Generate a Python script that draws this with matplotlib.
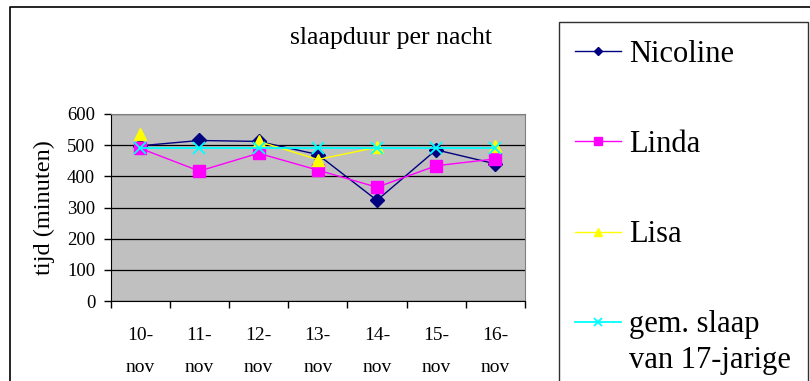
#!/usr/bin/env python3
"""Sleep duration per night, four series on a grey Excel-style plot area."""
import numpy as np
import matplotlib
matplotlib.use("Agg")
import matplotlib.pyplot as plt
from matplotlib.patches import Rectangle
from matplotlib.lines import Line2D

days = ["10-\nnov", "11-\nnov", "12-\nnov", "13-\nnov", "14-\nnov", "15-\nnov", "16-\nnov"]
nicoline = [498, 515, 512, 470, 323, 485, 440]
linda = [490, 417, 474, 420, 365, 434, 456]
lisa = [537, np.nan, 512, 454, 493, np.nan, 497]   # no value on 11 and 15 nov
gem_17 = [490, 490, 490, 490, 490, 490, 490]
labels = ["Nicoline", "Linda", "Lisa", "gem. slaap"]
label_extra = "van 17-jarige"
yticks = [0, 100, 200, 300, 400, 500, 600]

W, H = 810, 381
plt.rcParams["font.family"] = ["Liberation Serif", "DejaVu Serif"]

fig = plt.figure(figsize=(W / 100, H / 100), dpi=100)
fig.patch.set_facecolor("white")

# plot area in pixels: left 110, right 525, top 114, bottom 301
ax = fig.add_axes([110.5 / W, 1 - 301 / H, (525 - 110.5) / W, (301 - 114) / H])
ax.set_facecolor("#c0c0c0")

x = np.arange(len(days))
ax.plot(x, nicoline, color="#000080", lw=1, marker="D", ms=7, label=labels[0], zorder=2)
ax.plot(x, linda, color="#ff00ff", lw=1, marker="s", ms=8, label=labels[1], zorder=3)
ax.plot(x, lisa, color="#ffff00", lw=1, marker="^", ms=9, label=labels[2], zorder=4)
ax.plot(x, gem_17, color="#00ffff", lw=1.3, marker="x", ms=8, mew=1.3, label=labels[3], zorder=5)

ax.set_xlim(-0.5, len(days) - 0.5)
ax.set_ylim(0, 600)
ax.set_yticks(yticks)
ax.set_yticklabels([str(v) for v in yticks], fontsize=13.5)
ax.yaxis.grid(True, color="black", lw=0.9)
ax.set_axisbelow(True)

# category labels centred, tick marks between categories
ax.set_xticks(np.arange(-0.5, len(days)))
ax.set_xticklabels([])
ax.set_xticks(x, minor=True)
ax.set_xticklabels(days, minor=True, fontsize=14, linespacing=2.2)
ax.tick_params(axis="x", which="minor", length=0, pad=18.5)
ax.tick_params(axis="x", which="major", length=5, width=1, direction="out")
ax.tick_params(axis="y", length=5, width=1, direction="out", pad=6)

for side in ("top", "right"):
    ax.spines[side].set_color("#808080")
for side in ("left", "bottom"):
    ax.spines[side].set_color("black")

ax.set_ylabel("tijd (minuten)", fontsize=17.5)
ax.yaxis.set_label_coords(-0.134, 0.5)

fig.text(391 / W, 1 - 38 / H, "slaapduur per nacht", fontsize=18.5,
         ha="center", va="center")

# outer chart border (cut off at right and bottom)
fig.add_artist(Line2D([10 / W, 10 / W, 1], [0, 1 - 7 / H, 1 - 7 / H],
                      transform=fig.transFigure, color="black", lw=1.2))

# legend frame, runs below the picture edge
fig.add_artist(Rectangle((559 / W, -0.1), (808 - 559) / W, 1.1 - 22 / H,
                         transform=fig.transFigure, fill=False,
                         edgecolor="#303030", lw=1))

leg = fig.legend(loc="upper left", bbox_to_anchor=(575 / W, 1 - 40 / H),
                 frameon=False, fontsize=22, handlelength=1.5,
                 handletextpad=0.28, labelspacing=2.0, markerscale=0.65,
                 borderaxespad=0, borderpad=0)

# second line of the last legend label, handle stays on the first line
fig.canvas.draw()
bb = leg.get_texts()[3].get_window_extent()
fig.text(bb.x0 / W, (bb.y0 - 36) / H, label_extra, fontsize=22,
         ha="left", va="bottom")

fig.savefig("out.png", dpi=100)
